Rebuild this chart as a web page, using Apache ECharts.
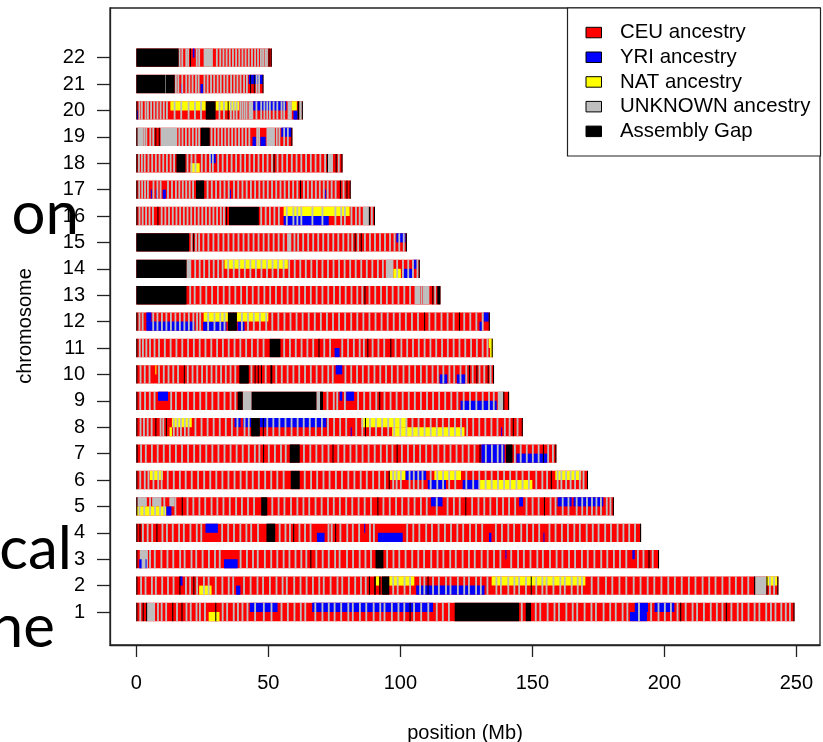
<!DOCTYPE html>
<html>
<head>
<meta charset="utf-8">
<script src="https://cdn.jsdelivr.net/npm/echarts@6/dist/echarts.min.js"></script>
<style>
  html, body { margin: 0; padding: 0; background: #fff; }
  #chart { width: 823px; height: 742px; }
</style>
</head>
<body>
<div id="chart"></div>
<script>
// Local ancestry painting of the 22 autosomes (two haplotypes per chromosome).
// Segments are [chromosome, start Mb, end Mb, haplotype]; haplotype 0 = both, 1 = upper, 2 = lower.

const chromosomes = [1, 2, 3, 4, 5, 6, 7, 8, 9, 10, 11, 12, 13, 14, 15, 16, 17, 18, 19, 20, 21, 22];
const chromLengths = [249.3, 243.2, 198.0, 191.2, 180.9, 171.1, 159.1, 146.4, 141.2, 135.5, 135.0,
                      133.9, 115.2, 107.3, 102.5, 90.4, 81.2, 78.1, 59.1, 63.0, 48.1, 51.3];
const xTicks = [0, 50, 100, 150, 200, 250];

const ancestryNames = ['CEU ancestry', 'YRI ancestry', 'NAT ancestry', 'UNKNOWN ancestry', 'Assembly Gap'];
const ancestryColors = ['#ff0000', '#0000ff', '#ffff00', '#bebebe', '#000000'];

const unknownBlocks = [
  [1, 3.9, 7.1, 0], [2, 234.4, 238.6, 0], [3, 1.3, 4.4, 0],
  [5, 0.4, 4.0, 1], [5, 6.0, 9.5, 1], [5, 12.5, 14.5, 1],
  [9, 40.3, 43.7, 0], [9, 68.2, 69.6, 0], [9, 136.9, 139.0, 0],
  [13, 105.4, 107.5, 0], [13, 108.5, 111.0, 0],
  [14, 19.0, 20.8, 0], [14, 94.5, 97.4, 0], [15, 57.1, 58.7, 0], [16, 85.8, 88.1, 0],
  [18, 72.6, 74.5, 0], [19, 0.4, 2.6, 0], [19, 9.2, 15.5, 0], [19, 49.3, 52.5, 0],
  [20, 42.5, 44.3, 0], [20, 57.3, 58.9, 0], [20, 61.7, 62.7, 0], [22, 25.5, 29.0, 0]
];

const yriBlocks = [
  [1, 43.0, 53.5, 1], [1, 66.6, 112.4, 1], [1, 187.0, 193.4, 2], [1, 188.8, 193.8, 1], [1, 196.3, 203.8, 1],
  [2, 16.5, 17.5, 1], [2, 37.8, 39.4, 2], [2, 106.0, 131.9, 2],
  [3, 1.1, 2.0, 2], [3, 3.5, 3.8, 2], [3, 33.2, 38.4, 2], [3, 139.8, 140.2, 1], [3, 187.9, 188.8, 1],
  [4, 26.2, 30.9, 1], [4, 68.4, 71.3, 2], [4, 86.3, 86.7, 1], [4, 91.5, 100.9, 2], [4, 133.6, 134.5, 2], [4, 154.2, 154.6, 2],
  [5, 11.3, 13.3, 2], [5, 111.6, 116.0, 1], [5, 145.0, 146.5, 1], [5, 159.6, 164.9, 1], [5, 165.6, 176.9, 1],
  [6, 101.9, 109.8, 1], [6, 110.4, 117.3, 2], [6, 123.6, 130.2, 2],
  [7, 130.7, 139.5, 0], [7, 144.0, 155.8, 2],
  [8, 37.2, 39.5, 1], [8, 40.4, 43.5, 1], [8, 46.8, 72.0, 1], [8, 81.2, 81.5, 2], [8, 138.2, 138.5, 2],
  [9, 8.2, 12.0, 1], [9, 77.0, 78.0, 1], [9, 79.5, 82.5, 1], [9, 122.8, 136.5, 2],
  [10, 75.5, 78.0, 1], [10, 114.9, 117.8, 2], [10, 121.4, 124.6, 2],
  [11, 75.1, 77.0, 2],
  [12, 3.8, 5.7, 1], [12, 3.8, 22.1, 2], [12, 25.3, 34.1, 2], [12, 38.4, 41.0, 2], [12, 130.0, 131.0, 2], [12, 131.6, 133.5, 1],
  [14, 101.2, 104.6, 2], [14, 105.0, 106.2, 1],
  [15, 98.5, 102.0, 1],
  [16, 55.8, 72.9, 2],
  [17, 5.5, 5.9, 2], [17, 7.5, 7.8, 2], [17, 10.0, 11.2, 2], [17, 35.4, 35.8, 2], [17, 71.5, 71.8, 2],
  [18, 27.6, 30.1, 1],
  [19, 44.0, 45.3, 2], [19, 47.0, 49.0, 2], [19, 54.9, 58.7, 1],
  [20, 0.3, 0.6, 2], [20, 44.3, 56.8, 1], [20, 59.5, 61.1, 2],
  [21, 16.9, 17.7, 2], [21, 24.3, 25.3, 2], [21, 42.6, 48.0, 1],
  [22, 21.4, 22.0, 1]
];

const natBlocks = [
  [1, 27.4, 31.5, 2],
  [2, 23.8, 28.5, 2], [2, 90.7, 92.0, 1], [2, 95.8, 105.3, 1], [2, 134.6, 170.1, 1], [2, 238.6, 242.8, 1],
  [5, 0.2, 11.3, 2],
  [6, 5.1, 10.1, 1], [6, 96.0, 101.9, 1], [6, 112.9, 123.0, 1], [6, 130.2, 150.0, 2], [6, 158.7, 168.5, 1],
  [8, 12.6, 13.5, 2], [8, 13.5, 21.0, 1], [8, 85.3, 102.6, 1], [8, 96.9, 124.3, 2],
  [10, 7.2, 7.6, 1],
  [11, 133.5, 135.0, 1], [11, 134.0, 135.0, 2],
  [12, 25.5, 34.7, 1], [12, 38.1, 50.0, 1],
  [14, 33.4, 57.4, 1], [14, 97.4, 100.2, 2],
  [16, 55.8, 80.8, 1],
  [18, 20.5, 24.0, 2],
  [20, 12.9, 26.3, 1], [20, 30.0, 38.9, 1], [20, 58.9, 60.8, 1]
];

const gapBlocks = [
  [1, 0, 0.4, 0], [1, 2.4, 2.8, 0], [1, 3.7, 4.1, 0], [1, 13.6, 14.0, 0], [1, 17.1, 17.5, 0], [1, 29.9, 30.3, 0],
  [1, 103.5, 103.9, 0], [1, 120.6, 145.0, 0], [1, 147.5, 149.5, 0], [1, 206.0, 206.4, 0], [1, 223.3, 223.7, 0], [1, 248.9, 249.3, 0],
  [2, 0, 0.4, 0], [2, 16.3, 16.7, 0], [2, 21.6, 22.0, 0], [2, 88.1, 88.5, 0], [2, 90.1, 90.7, 0], [2, 92.0, 92.5, 0],
  [2, 93.0, 95.8, 0], [2, 110.3, 110.7, 0], [2, 149.4, 149.8, 0], [2, 234.0, 234.4, 0], [2, 238.7, 239.0, 0], [2, 242.8, 243.2, 0],
  [3, 0, 0.4, 0], [3, 65.9, 66.3, 0], [3, 90.6, 93.6, 0], [3, 194.0, 194.4, 0], [3, 197.6, 198.0, 0],
  [4, 0, 0.4, 0], [4, 1.2, 1.6, 0], [4, 7.6, 8.0, 0], [4, 49.3, 52.6, 0], [4, 59.4, 59.8, 0], [4, 75.3, 75.7, 0], [4, 190.8, 191.2, 0],
  [5, 0, 0.4, 0], [5, 17.2, 17.6, 0], [5, 47.3, 49.6, 0], [5, 91.3, 91.7, 0], [5, 124.6, 125.0, 0], [5, 154.4, 154.8, 0], [5, 180.5, 180.9, 0],
  [6, 0, 0.4, 0], [6, 58.5, 61.9, 0], [6, 95.6, 96.0, 0], [6, 157.0, 157.4, 0], [6, 170.7, 171.1, 0],
  [7, 0, 0.5, 0], [7, 48.0, 48.4, 0], [7, 58.1, 61.9, 0], [7, 74.3, 74.7, 0], [7, 98.6, 99.0, 0], [7, 130.0, 130.4, 0],
  [7, 140.0, 142.5, 0], [7, 154.0, 154.4, 0], [7, 158.7, 159.1, 0],
  [8, 0, 0.4, 0], [8, 7.2, 7.6, 0], [8, 11.2, 11.6, 0], [8, 43.5, 46.8, 0], [8, 47.9, 48.3, 0], [8, 86.6, 87.0, 0],
  [8, 142.6, 143.0, 0], [8, 146.0, 146.4, 0],
  [9, 0, 0.4, 0], [9, 38.4, 40.3, 0], [9, 43.7, 68.2, 0], [9, 69.6, 70.7, 0], [9, 92.0, 92.4, 0], [9, 139.0, 139.4, 0], [9, 140.8, 141.2, 0],
  [10, 0, 0.4, 0], [10, 18.0, 18.3, 0], [10, 39.0, 42.6, 0], [10, 44.8, 45.1, 0], [10, 46.0, 46.3, 0], [10, 47.2, 47.6, 0],
  [10, 50.8, 51.5, 0], [10, 126.0, 126.3, 0], [10, 128.8, 129.1, 0], [10, 133.1, 133.4, 0], [10, 135.1, 135.5, 0],
  [11, 0, 0.4, 0], [11, 50.5, 54.6, 0], [11, 69.0, 69.4, 0], [11, 87.5, 87.9, 0], [11, 96.2, 96.6, 0], [11, 134.6, 135.0, 0],
  [12, 0, 0.4, 0], [12, 34.7, 38.1, 0], [12, 109.0, 109.4, 0], [12, 122.2, 122.6, 0], [12, 133.5, 133.9, 0],
  [13, 0, 19.0, 0], [13, 86.4, 86.8, 0], [13, 112.1, 112.5, 0], [13, 114.0, 115.2, 0],
  [14, 0, 19.0, 0], [14, 107.0, 107.3, 0],
  [15, 0, 20.0, 0], [15, 21.5, 21.9, 0], [15, 82.7, 83.1, 0], [15, 85.0, 85.4, 0], [15, 102.1, 102.5, 0],
  [16, 0, 0.4, 0], [16, 8.0, 8.4, 0], [16, 34.0, 34.4, 0], [16, 35.1, 46.4, 0], [16, 88.1, 88.5, 0], [16, 90.0, 90.4, 0],
  [17, 0, 0.4, 0], [17, 22.6, 25.7, 0], [17, 62.0, 62.4, 0], [17, 77.1, 77.5, 0], [17, 79.6, 80.0, 0], [17, 80.8, 81.2, 0],
  [18, 0, 0.4, 0], [18, 15.2, 18.6, 0], [18, 52.0, 52.4, 0], [18, 72.2, 72.6, 0], [18, 75.5, 75.9, 0], [18, 77.7, 78.1, 0],
  [19, 0, 0.4, 0], [19, 7.2, 7.5, 0], [19, 8.5, 8.8, 0], [19, 24.4, 27.8, 0], [19, 58.7, 59.1, 0],
  [20, 0, 0.4, 0], [20, 26.3, 30.0, 0], [20, 34.6, 34.9, 0], [20, 61.1, 61.7, 0], [20, 62.7, 63.0, 0],
  [21, 0, 10.9, 0], [21, 11.1, 14.5, 0], [21, 43.1, 43.4, 0], [21, 44.5, 44.8, 0], [21, 47.8, 48.1, 0],
  [22, 0, 16.0, 0], [22, 20.3, 20.6, 0], [22, 50.1, 50.4, 0], [22, 50.9, 51.3, 0]
];

// Short UNKNOWN calls (centre positions in Mb), one list per chromosome.
const unknownStripes = [
  [1.5, 8.2, 9.6, 11.3, 15.4, 19.0, 20.6, 22.8, 24.1, 26.0, 32.7, 34.4, 36.9, 38.5, 40.2, 42.1, 45.0, 48.3, 51.2, 55.0, 57.4, 59.9,
   62.3, 64.0, 67.8, 70.5, 72.9, 75.1, 77.6, 80.3, 82.0, 84.7, 87.1, 89.9, 92.4, 94.0, 96.8, 99.3, 101.5, 105.2, 107.9, 110.6,
   113.8, 116.1, 118.4, 146.0, 151.3, 153.0, 155.8, 158.4, 160.1, 162.9, 165.3, 167.0, 169.8, 172.4, 174.1, 177.0, 179.5, 181.6,
   184.2, 186.0, 190.4, 195.0, 197.8, 200.2, 202.5, 205.0, 208.1, 210.7, 212.4, 215.0, 217.6, 219.9, 222.0, 225.4, 227.8, 229.5,
   231.9, 234.2, 236.0, 238.6, 240.4, 242.1, 244.3, 246.0, 247.6],
  [1.8, 3.5, 5.9, 7.4, 9.8, 12.0, 14.1, 18.8, 20.4, 23.0, 25.6, 27.4, 30.1, 32.6, 35.0, 36.7, 40.8, 43.3, 45.9, 48.0, 50.6, 53.1,
   55.4, 57.0, 59.8, 62.2, 64.5, 66.9, 69.3, 71.0, 73.6, 76.2, 78.0, 80.5, 82.9, 85.1, 86.9, 97.3, 99.0, 101.6, 103.7, 107.5, 109.1,
   112.4, 114.6, 117.3, 119.0, 121.8, 124.2, 126.0, 128.7, 130.5, 133.0, 136.4, 138.1, 140.9, 143.2, 145.0, 147.6, 151.5, 153.8,
   155.4, 158.0, 160.6, 162.3, 164.9, 167.2, 168.8, 172.5, 175.0, 177.9, 180.3, 183.0, 185.6, 188.4, 191.0, 193.7, 196.2, 198.9,
   201.5, 204.0, 206.6, 209.3, 211.8, 214.5, 217.0, 219.4, 222.0, 224.7, 227.1, 229.5, 231.8, 240.0, 241.6],
  [5.2, 7.0, 9.5, 11.8, 14.0, 16.6, 18.3, 20.9, 22.7, 25.1, 27.5, 29.8, 31.6, 39.5, 41.9, 44.2, 46.0, 48.7, 51.1, 53.4, 55.8, 58.0,
   60.3, 62.5, 64.4, 68.2, 70.6, 72.9, 75.3, 77.0, 79.8, 82.1, 84.6, 86.8, 88.9, 95.0, 97.4, 99.6, 102.0, 104.5, 106.8, 109.0,
   111.7, 114.1, 116.3, 118.9, 121.0, 123.6, 126.0, 128.2, 130.8, 133.1, 135.5, 137.9, 142.0, 144.6, 146.8, 149.3, 151.9, 154.0,
   156.7, 159.2, 161.4, 163.9, 166.2, 168.8, 171.0, 173.5, 176.1, 178.4, 180.9, 183.2, 185.6, 190.0, 192.1, 195.6],
  [2.5, 4.3, 6.0, 9.9, 11.6, 13.8, 16.2, 18.0, 20.5, 22.9, 24.6, 32.5, 34.8, 37.0, 39.4, 41.7, 43.5, 46.1, 54.3, 56.5, 58.2, 61.8,
   63.9, 66.0, 72.8, 74.0, 77.3, 79.9, 82.0, 84.4, 88.5, 90.0, 102.6, 104.9, 107.2, 109.8, 112.0, 114.5, 116.9, 119.2, 121.6, 123.8,
   126.4, 128.7, 131.0, 136.2, 138.5, 140.9, 143.1, 145.8, 148.0, 150.3, 152.6, 156.5, 158.8, 161.2, 163.5, 165.9, 168.0, 170.6,
   172.9, 175.1, 177.6, 179.8, 182.3, 184.5, 186.7, 188.9],
  [1.2, 3.0, 5.2, 7.1, 9.0, 10.6, 14.8, 19.4, 21.6, 23.9, 26.1, 28.5, 30.7, 33.0, 35.4, 37.8, 40.0, 42.3, 44.6, 51.5, 53.9, 56.1,
   58.6, 61.0, 63.3, 65.5, 67.9, 70.2, 72.6, 74.8, 77.1, 79.5, 81.8, 84.2, 86.5, 88.9, 93.6, 96.0, 98.4, 100.7, 103.1, 105.4, 107.8,
   110.0, 113.8, 117.9, 120.3, 122.5, 127.2, 129.6, 131.8, 134.1, 136.6, 138.9, 141.2, 143.5, 147.8, 150.1, 152.4, 156.9, 158.8,
   161.5, 163.7, 166.8, 168.9, 170.7, 172.6, 174.3, 176.0, 178.2, 179.6],
  [1.5, 3.2, 4.6, 6.5, 8.3, 9.6, 11.9, 14.2, 16.5, 18.7, 21.0, 23.4, 25.7, 28.0, 30.3, 32.6, 34.9, 37.2, 39.5, 41.8, 44.1, 46.4,
   48.8, 51.1, 53.4, 55.8, 63.8, 66.2, 68.5, 70.9, 73.2, 75.6, 77.9, 80.3, 82.6, 85.0, 87.3, 89.7, 92.0, 94.2, 97.3, 98.6, 100.2,
   103.5, 105.1, 106.8, 108.4, 111.5, 114.0, 116.2, 118.5, 120.8, 125.0, 127.6, 129.9, 132.3, 134.6, 137.0, 139.3, 141.6, 144.0,
   146.3, 148.7, 151.5, 153.8, 155.6, 159.6, 161.0, 162.8, 164.5, 166.2, 168.0, 169.4],
  [1.8, 3.6, 5.9, 8.1, 10.4, 12.7, 15.0, 17.3, 19.6, 21.9, 24.2, 26.5, 28.8, 31.1, 33.4, 35.7, 38.0, 40.3, 42.6, 44.9, 46.6, 50.2,
   52.5, 54.8, 56.6, 63.5, 65.9, 68.2, 70.5, 72.8, 76.5, 78.8, 81.1, 83.4, 85.7, 88.0, 90.3, 92.6, 94.9, 97.0, 100.6, 102.9, 105.2,
   107.5, 109.8, 112.1, 114.4, 116.7, 119.0, 121.3, 123.6, 125.9, 128.1, 132.4, 134.7, 136.9, 138.6, 143.4, 145.6, 147.9, 150.2,
   152.4, 156.0, 157.8],
  [1.6, 2.9, 4.3, 5.8, 9.2, 10.2, 14.2, 15.6, 16.9, 18.4, 19.8, 22.4, 24.7, 27.0, 29.3, 31.6, 33.9, 36.2, 38.3, 41.0, 42.6, 49.6,
   51.9, 54.2, 56.5, 58.8, 61.1, 63.4, 65.7, 68.0, 70.3, 72.6, 74.9, 77.2, 79.5, 83.3, 85.6, 88.5, 90.8, 93.1, 95.4, 97.7, 100.0,
   102.3, 104.6, 106.9, 109.2, 111.5, 113.8, 116.1, 118.4, 120.7, 123.0, 125.3, 127.6, 129.9, 132.2, 134.5, 136.8, 139.6, 141.4, 144.4],
  [1.5, 3.3, 5.1, 6.9, 13.2, 15.0, 17.3, 19.6, 21.9, 24.2, 26.5, 28.8, 31.1, 33.4, 35.7, 37.5, 72.4, 74.8, 76.1, 79.0, 84.0, 86.3,
   88.6, 90.9, 94.0, 96.3, 98.6, 100.9, 103.2, 105.5, 107.8, 110.1, 112.4, 114.7, 117.0, 119.3, 121.6, 124.0, 126.4, 128.8, 131.2,
   133.6, 135.4],
  [1.6, 3.2, 5.0, 8.6, 10.4, 12.2, 14.0, 15.8, 19.5, 21.3, 23.1, 24.9, 26.7, 28.5, 30.3, 32.1, 33.9, 35.7, 37.5, 43.6, 49.0, 53.0,
   55.1, 57.3, 59.5, 61.7, 63.9, 66.1, 68.3, 70.5, 72.7, 74.4, 79.2, 81.4, 83.6, 85.8, 88.0, 90.2, 92.4, 94.6, 96.8, 99.0, 101.2,
   103.4, 105.6, 107.8, 110.0, 112.2, 114.2, 116.3, 118.6, 120.4, 122.8, 125.0, 127.4, 130.0, 131.8, 134.2],
  [1.3, 2.5, 3.8, 5.2, 6.9, 8.6, 10.8, 13.0, 15.2, 17.4, 19.6, 21.8, 24.0, 26.2, 28.4, 30.6, 32.8, 35.0, 37.2, 39.4, 41.6, 43.8,
   46.0, 48.2, 56.0, 58.2, 60.4, 62.6, 64.8, 67.0, 71.2, 73.4, 78.0, 80.2, 82.4, 84.6, 86.2, 89.5, 91.7, 93.9, 98.2, 100.4, 102.6,
   104.8, 107.0, 109.2, 111.4, 113.6, 115.8, 118.0, 120.2, 122.4, 124.6, 126.8, 129.0, 131.2, 133.0],
  [1.2, 2.4, 6.4, 8.0, 9.7, 11.4, 13.1, 14.8, 16.5, 18.2, 19.9, 21.6, 23.0, 24.2, 27.2, 29.6, 31.8, 33.4, 40.0, 42.3, 44.5, 46.8,
   49.2, 51.5, 53.8, 56.1, 58.4, 60.7, 63.0, 65.3, 67.6, 69.9, 72.2, 74.5, 76.8, 79.1, 81.4, 83.7, 86.0, 88.3, 90.6, 92.9, 95.2,
   97.5, 99.8, 102.1, 104.4, 106.7, 111.0, 113.3, 115.6, 117.9, 120.2, 124.2, 126.5, 128.8, 131.2],
  [20.4, 22.1, 24.3, 26.5, 28.7, 30.9, 33.1, 35.3, 37.5, 39.7, 41.9, 44.1, 46.3, 48.5, 50.7, 52.9, 55.1, 57.3, 59.5, 61.7, 63.9,
   66.1, 68.3, 70.5, 72.7, 74.9, 77.1, 79.3, 81.5, 83.7, 85.6, 88.3, 90.5, 92.7, 94.9, 97.1, 99.3, 101.5, 103.7, 108.0, 113.2],
  [22.3, 24.0, 25.7, 27.6, 29.3, 31.0, 32.7, 34.8, 36.9, 39.0, 41.1, 43.2, 45.3, 47.4, 49.5, 51.6, 53.7, 55.8, 57.9, 60.0, 62.1,
   64.2, 66.3, 68.4, 70.5, 72.6, 74.7, 76.8, 78.9, 81.0, 83.1, 85.2, 87.3, 89.4, 91.5, 93.4, 98.8, 101.0, 103.0, 104.8, 106.5],
  [20.9, 22.6, 23.8, 25.4, 27.3, 29.2, 31.1, 33.0, 34.9, 36.8, 38.7, 40.6, 42.5, 44.4, 46.3, 48.2, 50.1, 52.0, 53.9, 55.8, 59.9,
   61.3, 63.2, 65.1, 67.0, 68.9, 70.8, 72.7, 74.6, 76.5, 78.4, 80.3, 81.8, 84.0, 86.6, 88.5, 90.4, 92.3, 94.2, 96.1, 97.8, 99.6, 101.3],
  [1.2, 2.4, 3.7, 5.0, 6.3, 9.6, 11.0, 12.4, 13.8, 15.2, 16.6, 18.0, 19.4, 20.8, 22.2, 23.6, 25.0, 26.4, 27.8, 29.2, 30.6, 32.0,
   33.2, 47.3, 49.0, 50.6, 52.3, 54.0, 57.0, 59.5, 61.0, 62.5, 66.7, 70.5, 75.4, 77.6, 79.0, 81.5, 83.2, 84.6, 89.2],
  [1.1, 2.2, 3.3, 4.4, 6.5, 8.0, 9.2, 12.0, 13.5, 15.0, 16.3, 17.6, 18.9, 20.2, 21.5, 27.0, 28.6, 30.2, 31.8, 33.4, 35.0, 37.0,
   38.6, 40.2, 41.8, 43.4, 45.0, 46.6, 48.2, 49.8, 51.4, 53.0, 54.6, 56.2, 57.8, 59.4, 61.0, 63.5, 65.0, 66.5, 68.0, 69.5, 71.0,
   72.5, 74.0, 75.5, 78.5],
  [1.0, 2.1, 3.2, 4.6, 6.0, 7.4, 8.8, 10.2, 11.6, 13.0, 14.3, 19.4, 20.9, 22.4, 24.8, 26.3, 27.9, 29.0, 31.0, 32.7, 34.4, 36.1,
   37.8, 39.5, 41.2, 42.9, 44.6, 46.3, 48.0, 49.7, 51.4, 53.5, 55.3, 57.1, 58.9, 60.7, 62.5, 64.3, 66.1, 67.9, 69.7, 71.5, 76.7],
  [3.0, 3.8, 5.3, 6.4, 16.3, 17.5, 18.8, 20.1, 21.4, 22.7, 23.8, 28.5, 29.8, 31.1, 32.4, 33.7, 35.0, 36.3, 37.6, 38.9, 40.2, 41.5,
   42.8, 45.8, 46.5, 53.2, 54.2, 56.0, 57.4],
  [1.2, 2.1, 3.5, 4.4, 5.6, 6.8, 8.0, 9.2, 10.4, 11.6, 14.5, 17.0, 19.8, 22.2, 24.5, 31.5, 33.2, 35.8, 36.9, 38.0, 39.4, 40.2,
   41.0, 41.8, 45.5, 47.3, 48.5, 49.6, 50.6, 52.0, 53.4, 55.0, 56.0],
  [11.0, 15.0, 15.9, 17.4, 18.9, 20.1, 21.3, 22.6, 23.6, 25.8, 27.0, 28.3, 29.5, 30.8, 32.0, 33.3, 34.5, 35.9, 37.1, 38.3, 39.5,
   40.8, 41.9, 45.6, 46.5],
  [16.4, 17.4, 18.9, 19.6, 22.9, 23.8, 30.5, 31.8, 33.0, 34.2, 35.4, 36.6, 37.8, 39.0, 40.2, 41.4, 42.6, 43.8, 45.0, 46.1, 47.2,
   48.0, 48.9, 49.5]
];

// ---- derived series data ----
const STRIPE_HALF_MB = 0.35;  // half-width used to draw a short call
const baseData = chromosomes.map((c, i) => [c, 0, chromLengths[i], 0]);
const stripeData = [];
unknownStripes.forEach((list, i) => list.forEach(p =>
  stripeData.push([chromosomes[i], p - STRIPE_HALF_MB, p + STRIPE_HALF_MB, 0])));

const HALF = 0.347;      // half of a chromosome bar, in y-axis units
const FONT = '"Liberation Sans", Arial, Helvetica, sans-serif';

function segmentRenderer(color) {
  return function (params, api) {
    const chr = api.value(0);
    const hap = api.value(3);
    const yTop = hap === 2 ? chr : chr + HALF;
    const yBot = hap === 1 ? chr : chr - HALF;
    const a = api.coord([api.value(1), yTop]);
    const b = api.coord([api.value(2), yBot]);
    return {
      type: 'rect',
      shape: { x: a[0], y: a[1], width: Math.max(b[0] - a[0], 1), height: b[1] - a[1] },
      style: { fill: color, stroke: 'none', lineWidth: 0 }
    };
  };
}

function customSeries(name, data, color) {
  return {
    type: 'custom', name: name, data: data, renderItem: segmentRenderer(color),
    silent: true, animation: false, clip: true,
    itemStyle: { color: color, borderWidth: 0 },
    encode: { x: [1, 2], y: 0 }
  };
}

const series = [
  customSeries(ancestryNames[0], baseData, ancestryColors[0]),
  customSeries(ancestryNames[3], unknownBlocks, ancestryColors[3]),
  customSeries(ancestryNames[1], yriBlocks, ancestryColors[1]),
  customSeries(ancestryNames[2], natBlocks, ancestryColors[2]),
  customSeries(ancestryNames[3] + ' (short)', stripeData, ancestryColors[3]),
  customSeries(ancestryNames[4], gapBlocks, ancestryColors[4])
];

// ---- legend box (top right, flush with the plot frame) ----
const legendElements = [{
  type: 'rect', shape: { x: 567.5, y: 8, width: 253, height: 148 },
  style: { fill: '#fff', stroke: '#222', lineWidth: 1.2 }, z: 10
}];
ancestryNames.forEach((name, i) => {
  const cy = 32.5 + i * 24.7;
  legendElements.push({
    type: 'rect', shape: { x: 586, y: cy - 5.2, width: 15.5, height: 10.5 },
    style: { fill: ancestryColors[i], stroke: '#000', lineWidth: 1 }, z: 11
  });
  legendElements.push({
    type: 'text', x: 620, y: cy, z: 11,
    style: { text: name, fill: '#000', font: '20.4px ' + FONT, textAlign: 'left', textVerticalAlign: 'middle' }
  });
});

const titleElements = [
  { type: 'text', x: 465, y: 733, z: 11,
    style: { text: 'position (Mb)', fill: '#000', font: '20px ' + FONT, textAlign: 'center', textVerticalAlign: 'middle' } },
  { type: 'text', x: 25, y: 326, rotation: Math.PI / 2, z: 11,
    style: { text: 'chromosome', fill: '#000', font: '20px ' + FONT, textAlign: 'center', textVerticalAlign: 'middle' } }
];

// fragments of slide text showing at the left edge
const slideText = [
  { type: 'text', x: 79, y: 215, z: 20,
    style: { text: 'on', fill: '#000', font: '60px Lato, "Open Sans", sans-serif', textAlign: 'right', textVerticalAlign: 'middle' } },
  { type: 'text', x: 72, y: 550, z: 20,
    style: { text: 'cal', fill: '#000', font: '60px Lato, "Open Sans", sans-serif', textAlign: 'right', textVerticalAlign: 'middle' } },
  { type: 'text', x: 55, y: 628, z: 20,
    style: { text: 'ne', fill: '#000', font: '60px Lato, "Open Sans", sans-serif', textAlign: 'right', textVerticalAlign: 'middle' } }
];

const chart = echarts.init(document.getElementById('chart'), null, { renderer: 'canvas' });
chart.setOption({
  backgroundColor: '#fff',
  animation: false,
  grid: { left: 110, right: 3, top: 8, bottom: 97, show: true, borderColor: '#222', borderWidth: 1.3, backgroundColor: 'transparent' },
  xAxis: {
    type: 'value', min: -9.97, max: 258.97,
    axisLine: { show: true, onZero: false, lineStyle: { color: '#222', width: 1.3 } },
    splitLine: { show: false },
    axisTick: { show: true, inside: false, length: 12, customValues: xTicks, lineStyle: { color: '#222', width: 1.3 } },
    axisLabel: { show: true, customValues: xTicks, margin: 28, fontSize: 20, color: '#000', fontFamily: FONT }
  },
  yAxis: {
    type: 'value', min: -0.25, max: 23.88,
    axisLine: { show: true, onZero: false, lineStyle: { color: '#222', width: 1.3 } },
    splitLine: { show: false },
    axisTick: { show: true, inside: false, length: 13, customValues: chromosomes, lineStyle: { color: '#222', width: 1.3 } },
    axisLabel: { show: true, customValues: chromosomes, margin: 25, fontSize: 20, color: '#000', fontFamily: FONT }
  },
  series: series,
  graphic: { elements: legendElements.concat(titleElements, slideText) }
});
</script>
</body>
</html>
